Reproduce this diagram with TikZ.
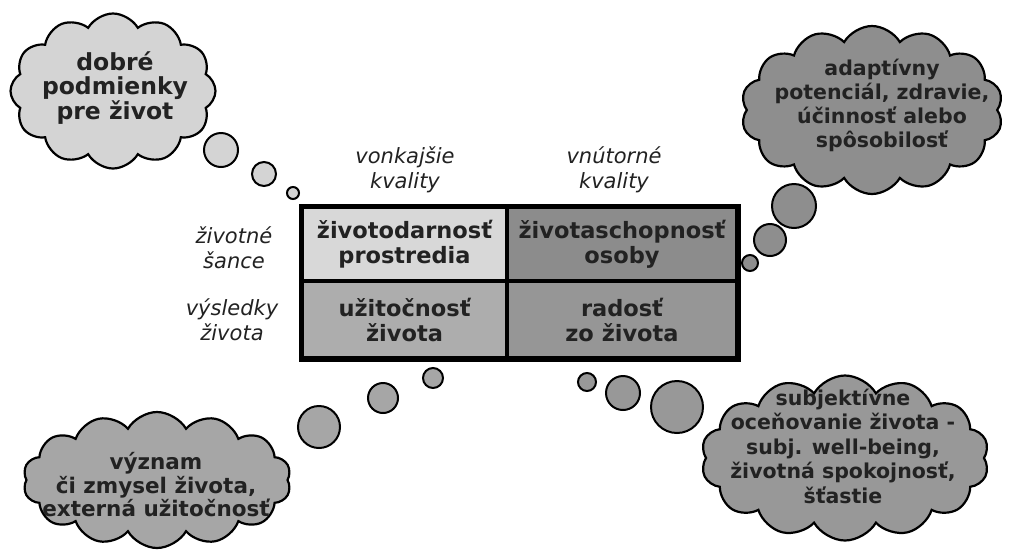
\documentclass[tikz,border=0pt]{standalone}
\usepackage{fontspec}
\setmainfont{DejaVu Sans}
\usetikzlibrary{shapes.symbols}
\definecolor{cloudA}{HTML}{D4D4D4}
\definecolor{cloudB}{HTML}{8E8E8E}
\definecolor{cloudC}{HTML}{A6A6A6}
\definecolor{cloudD}{HTML}{989898}
\definecolor{cellA}{HTML}{D8D8D8}
\definecolor{cellB}{HTML}{8C8C8C}
\definecolor{cellC}{HTML}{ADADAD}
\definecolor{cellD}{HTML}{969696}
\definecolor{ink}{HTML}{222222}
\begin{document}
\begin{tikzpicture}[x=1pt,y=-1pt,
  cloudshape/.style={cloud, cloud puffs=13, cloud puff arc=120, draw=black, line width=2.2pt, inner sep=0pt},
  cloudtext/.style={align=center, text=ink, font=\bfseries\fontsize{20.5}{24}\selectfont, inner sep=0pt},
  bubble/.style={circle, draw=black, line width=2pt, inner sep=0pt},
  cell/.style={draw=black, line width=3.5pt, inner sep=0pt, align=center, text=ink, font=\bfseries\fontsize{22.5}{25}\selectfont},
  axislabel/.style={align=center, text=ink, font=\itshape\fontsize{21}{25}\selectfont, inner sep=0pt}
]
\useasboundingbox[fill=white] (0,0) rectangle (1020,550);

% clouds
\node[cloudshape, fill=cloudA, cloud puffs=12, minimum width=205pt, minimum height=155pt] (c1) at (113,91) {};
\node[cloudtext, font=\bfseries\fontsize{23.5}{24.5}\selectfont] (t1) at (115,88) {dobré\\podmienky\\pre život};

\node[cloudshape, fill=cloudB, cloud puffs=14, minimum width=262pt, minimum height=168pt] (c2) at (872,110) {};
\node[cloudtext] (t2) at (882,105) {adaptívny\\potenciál, zdravie,\\účinnosť alebo\\spôsobilosť};

\node[cloudshape, fill=cloudC, cloud puffs=14, minimum width=268pt, minimum height=136pt] (c3) at (157,480) {};
\node[cloudtext, font=\bfseries\fontsize{21.5}{23.5}\selectfont] (t3) at (156,485) {význam\\či zmysel života,\\externá užitočnosť};

\node[cloudshape, fill=cloudD, cloud puffs=14, minimum width=288pt, minimum height=165pt] (c4) at (845,458) {};
\node[cloudtext, font=\bfseries\fontsize{20.5}{24.5}\selectfont] (t4) at (843,446) {subjektívne\\oceňovanie života -\\subj. well-being,\\životná spokojnosť,\\šťastie};

% bubbles
\node[bubble, fill=cloudA, minimum size=34pt] (b11) at (221,150) {};
\node[bubble, fill=cloudA, minimum size=24pt] (b12) at (264,174) {};
\node[bubble, fill=cloudA, minimum size=12pt] (b13) at (293,193) {};

\node[bubble, fill=cloudB, minimum size=44pt] (b21) at (794,206) {};
\node[bubble, fill=cloudB, minimum size=32pt] (b22) at (770,240) {};
\node[bubble, fill=cloudB, minimum size=16pt] (b23) at (750,263) {};

\node[bubble, fill=cloudC, minimum size=42pt] (b31) at (319,427) {};
\node[bubble, fill=cloudC, minimum size=30pt] (b32) at (383,398) {};
\node[bubble, fill=cloudC, minimum size=20pt] (b33) at (433,378) {};

\node[bubble, fill=cloudD, minimum size=18pt] (b41) at (587,382) {};
\node[bubble, fill=cloudD, minimum size=34pt] (b42) at (623,393) {};
\node[bubble, fill=cloudD, minimum size=52pt] (b43) at (677,407) {};

% grid
\node[cell, fill=cellA, minimum width=205pt, minimum height=74pt] (g11) at (404.5,244) {životodarnosť\\prostredia};
\node[cell, fill=cellB, minimum width=230pt, minimum height=74pt] (g12) at (622,244) {životaschopnosť\\osoby};
\node[cell, fill=cellC, minimum width=205pt, minimum height=77pt] (g21) at (404.5,319.5) {užitočnosť\\života};
\node[cell, fill=cellD, minimum width=230pt, minimum height=77pt] (g22) at (622,319.5) {radosť\\zo života};
\draw[line width=3.5pt] (g11.north west) rectangle (g22.south east);

% axis labels
\node[axislabel] (l1) at (405,170) {vonkajšie\\kvality};
\node[axislabel] (l2) at (614,170) {vnútorné\\kvality};
\node[axislabel] (l3) at (234,248) {životné\\šance};
\node[axislabel] (l4) at (232,320) {výsledky\\života};
\end{tikzpicture}
\end{document}
